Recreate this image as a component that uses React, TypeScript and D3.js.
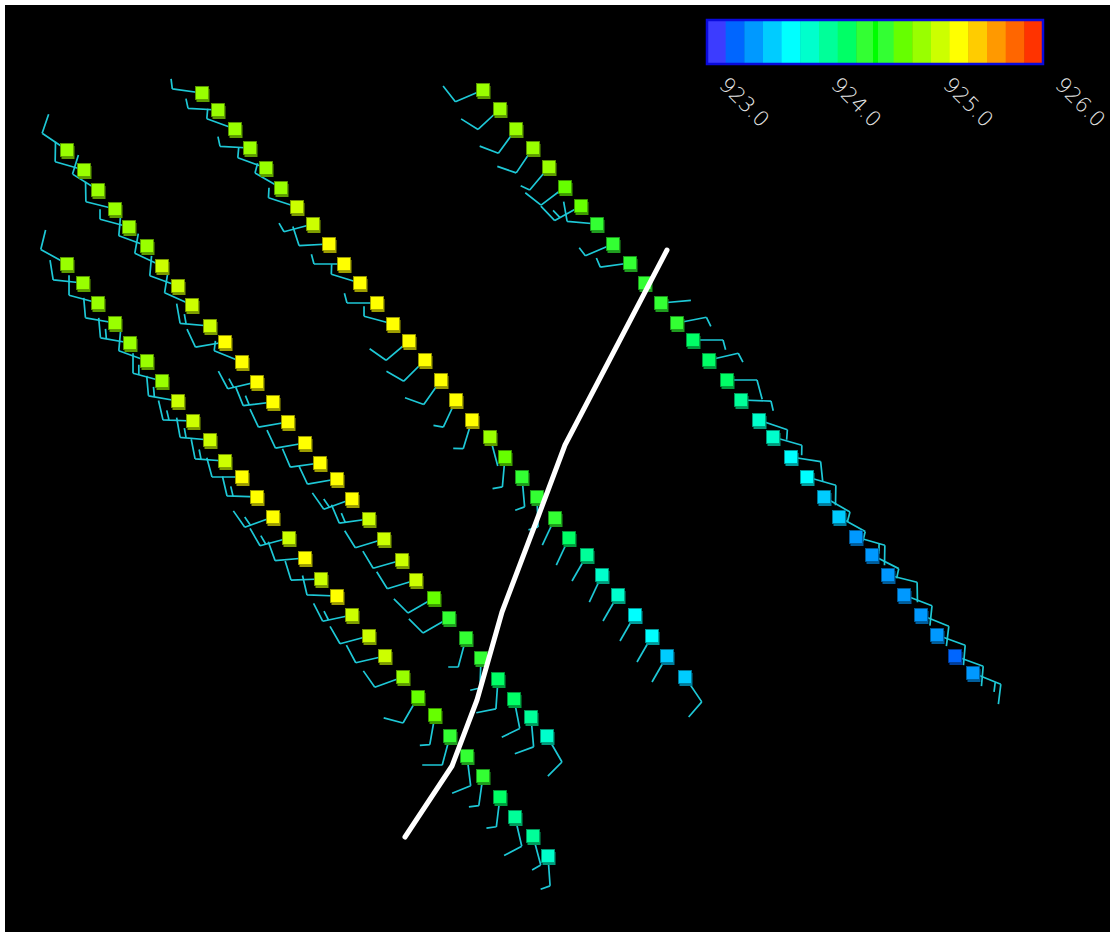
import React from "react";
import * as d3 from "d3";

const W = 1115;
const H = 935;

// colour bar
const barColors = [
  "#3c3cff", "#0066ff", "#0099ff", "#00ccff", "#00ffff", "#00ffcc",
  "#00ff99", "#00ff66", "#33ff33", "#33ff33", "#66ff00", "#99ff00",
  "#ccff00", "#ffff00", "#ffcc00", "#ff9900", "#ff6600", "#ff3300",
];
const barTicks = [923, 924, 925, 926];

// tracks: x km east, y km north, value, wind from (deg), wind speed (kt)
const trackAX = [6.2, 7.9, 9.3, 11.0, 12.4, 14.2, 15.7, 17.3, 18.7, 20.5, 22.0, 23.7, 25.2, 26.8, 28.3, 30.0, 31.5, 33.2, 34.7, 36.4, 37.9, 39.7, 41.1, 42.9, 44.4, 46.1, 47.6, 49.3, 50.9, 52.6, 54.2];
const trackAY = [78.2, 76.2, 74.2, 72.3, 70.5, 68.6, 66.6, 64.6, 62.7, 60.6, 59.0, 57.0, 55.0, 53.0, 51.0, 48.9, 46.9, 45.3, 43.3, 41.3, 39.3, 37.2, 35.2, 33.4, 31.4, 29.4, 27.4, 25.3, 23.3, 21.5, 19.6];
const trackAVal = [924.90, 924.92, 924.95, 924.91, 924.93, 924.96, 925.05, 925.08, 925.10, 925.12, 925.20, 925.24, 925.26, 925.28, 925.25, 925.22, 925.27, 925.23, 925.20, 925.12, 925.10, 925.08, 925.06, 924.76, 924.45, 924.42, 924.40, 924.28, 924.22, 924.10, 923.92];
const trackADir = [304, 286, 302, 284, 285, 290, 295, 290, 294, 275, 260, 292, 257, 263, 260, 260, 262, 260, 250, 262, 253, 254, 253, 240, 240, 195, 182, 184, 169, 175, 150];
const trackASpd = [10, 10, 10, 10, 5, 10, 10, 10, 10, 15, 10, 5, 15, 15, 10, 10, 10, 10, 15, 15, 10, 10, 10, 10, 10, 5, 5, 10, 10, 10, 10];

const trackBX = [6.2, 7.8, 9.3, 11.0, 12.5, 14.2, 15.7, 17.3, 18.8, 20.5, 22.0, 23.7, 25.2, 26.8, 28.4, 30.0, 31.6, 33.2, 34.7, 36.4, 38.0, 39.8, 41.3, 43.0, 44.5, 46.2, 47.8, 49.5, 51.0, 52.8, 54.3];
const trackBY = [66.8, 64.9, 62.9, 60.9, 58.9, 57.1, 55.1, 53.1, 51.1, 49.2, 47.1, 45.5, 43.5, 41.5, 39.4, 37.4, 35.3, 33.6, 31.7, 29.6, 27.6, 25.5, 23.5, 21.7, 19.6, 17.6, 15.6, 13.5, 11.5, 9.6, 7.6];
const trackBVal = [924.90, 924.93, 924.91, 924.95, 924.92, 924.94, 924.97, 925.05, 925.08, 925.10, 925.12, 925.20, 925.24, 925.22, 925.12, 925.21, 925.10, 925.20, 925.11, 925.09, 925.06, 924.94, 924.78, 924.76, 924.44, 924.42, 924.40, 924.26, 924.10, 924.06, 923.94];
const trackBDir = [299, 276, 285, 280, 280, 290, 285, 280, 272, 275, 274, 270, 272, 250, 255, 265, 268, 272, 258, 255, 257, 250, 210, 190, 195, 173, 188, 187, 167, 165, 176];
const trackBSpd = [10, 10, 10, 10, 15, 10, 15, 15, 15, 15, 15, 10, 15, 15, 15, 10, 10, 10, 15, 10, 10, 10, 10, 5, 10, 10, 5, 5, 10, 5, 5];

const trackCX = [19.7, 21.3, 23.0, 24.5, 26.1, 27.6, 29.2, 30.8, 32.4, 33.9, 35.5, 37.2, 38.8, 40.4, 42.0, 43.6, 45.1, 46.7, 48.5, 50.0, 51.7, 53.2, 55.0, 56.4, 58.2, 59.7, 61.3, 63.0, 64.7, 66.2, 68.0];
const trackCY = [83.9, 82.2, 80.3, 78.4, 76.4, 74.4, 72.5, 70.8, 68.8, 66.8, 64.9, 62.9, 60.8, 59.1, 57.2, 55.2, 53.2, 51.2, 49.5, 47.5, 45.5, 43.5, 41.4, 39.4, 37.7, 35.7, 33.7, 31.7, 29.6, 27.6, 25.5];
const trackCVal = [924.88, 924.92, 924.95, 924.90, 924.93, 924.96, 925.06, 925.10, 925.20, 925.24, 925.27, 925.25, 925.22, 925.26, 925.28, 925.24, 925.21, 925.20, 924.92, 924.76, 924.44, 924.40, 924.38, 924.26, 924.09, 923.94, 923.90, 923.76, 923.72, 923.60, 923.57];
const trackCDir = [278, 273, 290, 273, 290, 300, 288, 255, 267, 270, 287, 270, 285, 230, 225, 215, 205, 197, 165, 185, 175, 178, 205, 205, 210, 205, 210, 210, 210, 210, 146];
const trackCSpd = [5, 5, 5, 5, 5, 5, 5, 5, 10, 5, 5, 5, 5, 10, 10, 10, 5, 5, 2, 5, 5, 5, 2, 2, 2, 2, 2, 2, 2, 2, 10];

const trackDX = [47.8, 49.5, 51.1, 52.8, 54.4, 56.0, 57.6, 59.2, 60.8, 62.5, 64.0, 65.6, 67.2, 68.8, 70.4, 72.2, 73.6, 75.4, 76.8, 78.6, 80.2, 81.9, 83.4, 85.1, 86.7, 88.3, 89.9, 91.6, 93.2, 95.0, 96.8];
const trackDY = [84.2, 82.3, 80.3, 78.4, 76.5, 74.5, 72.6, 70.8, 68.8, 66.9, 64.9, 62.9, 60.9, 59.2, 57.2, 55.2, 53.2, 51.2, 49.5, 47.5, 45.5, 43.5, 41.5, 39.5, 37.7, 35.7, 33.7, 31.7, 29.7, 27.6, 25.9];
const trackDVal = [924.90, 924.93, 924.95, 924.92, 924.88, 924.78, 924.76, 924.45, 924.42, 924.40, 924.52, 924.44, 924.41, 924.28, 924.26, 924.22, 924.10, 923.95, 923.92, 923.78, 923.74, 923.62, 923.58, 923.45, 923.42, 923.40, 923.44, 923.38, 923.36, 923.25, 923.40];
const trackDDir = [247, 227, 216, 214, 220, 233, 241, 275, 247, 262, 0, 85, 79, 90, 77, 90, 92, 109, 106, 99, 106, 120, 119, 106, 117, 104, 111, 112, 110, 110, 112];
const trackDSpd = [10, 10, 10, 10, 5, 10, 15, 10, 5, 5, 0, 2, 5, 5, 5, 10, 5, 5, 5, 10, 10, 5, 5, 15, 5, 10, 10, 10, 10, 10, 15];

// front line
const frontX = [40.0, 44.7, 47.2, 49.7, 53.3, 56.0, 66.2];
const frontY = [9.5, 16.6, 23.2, 32.0, 41.5, 48.7, 68.2];

const tracks = [
  { x: trackAX, y: trackAY, v: trackAVal, dir: trackADir, spd: trackASpd },
  { x: trackBX, y: trackBY, v: trackBVal, dir: trackBDir, spd: trackBSpd },
  { x: trackCX, y: trackCY, v: trackCVal, dir: trackCDir, spd: trackCSpd },
  { x: trackDX, y: trackDY, v: trackDVal, dir: trackDDir, spd: trackDSpd },
];

const x = d3.scaleLinear().domain([0, 110.5]).range([5, 1110]);
const y = d3.scaleLinear().domain([0, 92.7]).range([932, 5]);

const vMin = 923;
const vMax = 926;
const bar = d3.scaleLinear().domain([vMin, vMax]).range([707, 1043]);
const colorOf = d3
  .scaleQuantize<string>()
  .domain([vMin, vMax])
  .range(barColors);

function barb(cx: number, cy: number, dir: number, spd: number) {
  if (spd < 1) return null;
  const L = 30;
  const F = 20;
  const gap = 6;
  const a = ((dir - 90) * Math.PI) / 180;
  const ux = Math.cos(a);
  const uy = Math.sin(a);
  const ex = cx + L * ux;
  const ey = cy + L * uy;
  const fa = a + (75 * Math.PI) / 180;
  const fx = Math.cos(fa);
  const fy = Math.sin(fa);
  const p = d3.path();
  p.moveTo(cx, cy);
  p.lineTo(ex, ey);
  let rem = Math.round(spd / 5) * 5;
  let pos = 0;
  while (rem >= 10) {
    const bx = ex - pos * ux;
    const by = ey - pos * uy;
    p.moveTo(bx, by);
    p.lineTo(bx + F * fx, by + F * fy);
    rem -= 10;
    pos += gap;
  }
  if (rem >= 5) {
    const bx = ex - pos * ux;
    const by = ey - pos * uy;
    p.moveTo(bx, by);
    p.lineTo(bx + (F / 2) * fx, by + (F / 2) * fy);
  }
  return p.toString();
}

export default function App() {
  const sq = 13;
  const frontLine = d3
    .line<number>()
    .x((d, i) => x(frontX[i]))
    .y((d, i) => y(frontY[i]));
  const bandW = (bar(vMax) - bar(vMin)) / barColors.length;

  return (
    <svg
      width={W}
      height={H}
      style={{ position: "absolute", left: 0, top: 0, background: "#fff" }}
    >
      <rect x={5} y={5} width={1105} height={927} fill="#000" />

      {/* wind barbs */}
      {tracks.map((t, ti) => (
        <g key={"b" + ti} stroke="#1ec8d6" strokeWidth={1.7} fill="none">
          {t.x.map((_, i) => {
            const d = barb(x(t.x[i]), y(t.y[i]), t.dir[i], t.spd[i]);
            return d ? <path key={i} d={d} /> : null;
          })}
        </g>
      ))}

      {/* observation squares */}
      {tracks.map((t, ti) => (
        <g key={"s" + ti}>
          {t.x.map((_, i) => {
            const c = colorOf(t.v[i]);
            const dark = d3.color(c)!.darker(1.4).formatHex();
            const cx = x(t.x[i]);
            const cy = y(t.y[i]);
            return (
              <g key={i}>
                <rect x={cx - sq / 2 + 1} y={cy - sq / 2 + 2.5} width={sq} height={sq} fill={dark} />
                <rect
                  x={cx - sq / 2}
                  y={cy - sq / 2}
                  width={sq}
                  height={sq}
                  fill={c}
                  stroke={dark}
                  strokeWidth={0.8}
                />
              </g>
            );
          })}
        </g>
      ))}

      {/* front */}
      <path
        d={frontLine(frontX) || ""}
        fill="none"
        stroke="#fff"
        strokeWidth={5}
        strokeLinecap="round"
        strokeLinejoin="round"
      />

      {/* colour bar */}
      <g>
        {barColors.map((c, i) => (
          <rect key={i} x={bar(vMin) + i * bandW} y={20} width={bandW + 0.5} height={44} fill={c} />
        ))}
        <rect x={bar(924.5) - 2} y={20} width={5} height={44} fill="#00ff00" />
        <rect
          x={bar(vMin)}
          y={20}
          width={bar(vMax) - bar(vMin)}
          height={44}
          fill="none"
          stroke="#0a0adc"
          strokeWidth={2.5}
        />
        {barTicks.map((v) => (
          <text
            key={v}
            transform={`translate(${bar(v) + 11},86) rotate(45)`}
            fill="#e8e8e8"
            fontFamily="DejaVu Sans"
            fontWeight={300}
            fontSize={21}
          >
            {v.toFixed(1)}
          </text>
        ))}
      </g>
    </svg>
  );
}
